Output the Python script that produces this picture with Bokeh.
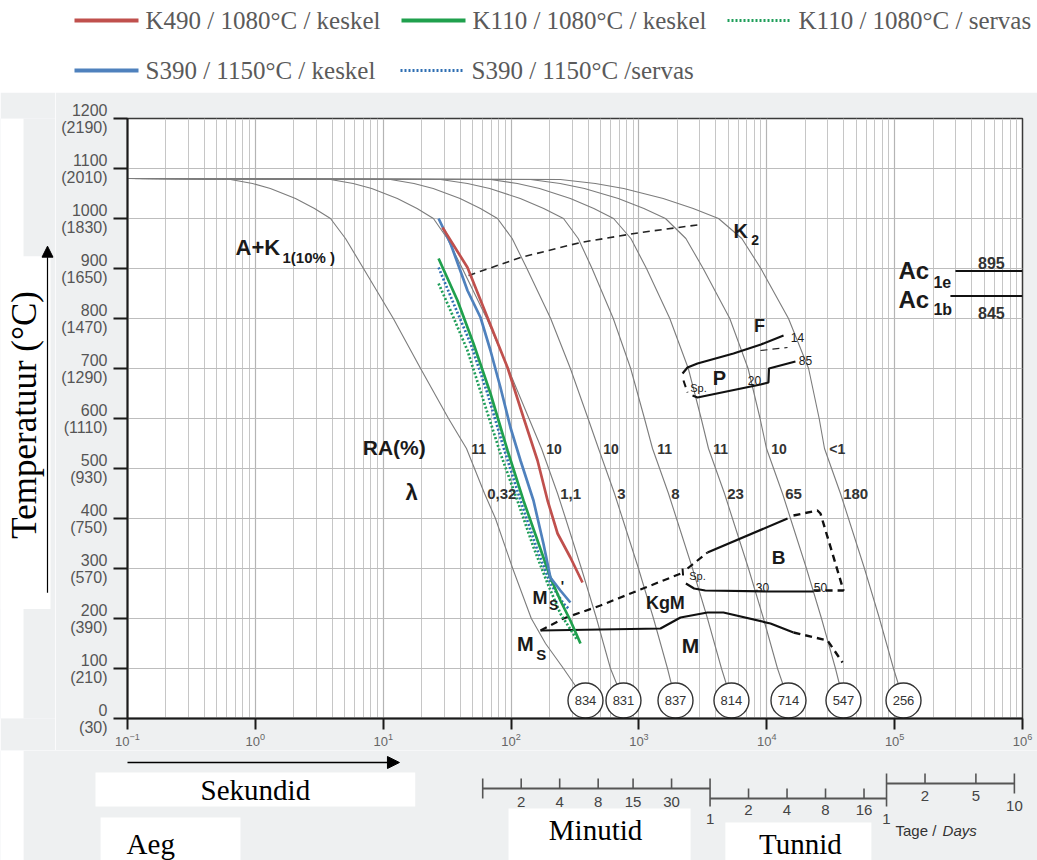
import numpy as np
from bokeh.plotting import figure
from bokeh.layouts import column, row
from bokeh.models import Range1d, FixedTicker, Arrow, NormalHead
from bokeh.core.properties import value
from bokeh.embed import file_html
from bokeh.resources import INLINE

SERIF = value("Liberation Serif")
SANS = value("Liberation Sans")
PAGE_BG = "#eef0f1"
CURVE_GRAY = "#7c7c7c"

# ---------------- measured cooling curves (time s, temperature °C) ----------------
series_labels = ["K490 / 1080°C / keskel", "K110 / 1080°C / keskel", "K110 / 1080°C / servas",
                 "S390 / 1150°C / keskel", "S390 / 1150°C /servas"]
k490_core_t = [29.1, 45.6, 65.4, 93.8, 125, 161, 193, 231, 291, 362]
k490_core_T = [982, 902, 802, 702, 602, 516, 436, 370, 322, 272]
k110_core_t = [27.1, 38.1, 50.8, 69.0, 93.8, 125, 161, 203, 243, 291, 349]
k110_core_T = [920, 836, 750, 650, 536, 436, 356, 282, 236, 196, 150]
k110_surf_t = [27.1, 33.6, 45.6, 60.8, 82.6, 112, 150, 193, 243, 331]
k110_surf_T = [870, 816, 736, 636, 530, 436, 342, 270, 210, 156]
s390_core_t = [27.1, 33.6, 45.6, 57.7, 69.0, 82.6, 98.9, 118.5, 149.7, 179, 203, 243, 291]
s390_core_T = [1000, 950, 856, 802, 736, 662, 582, 516, 436, 350, 282, 256, 232]
s390_surf_t = [27.1, 35.5, 48.2, 65.4, 87.3, 118.5, 161, 203, 257, 281]
s390_surf_T = [902, 830, 750, 650, 542, 436, 336, 270, 230, 220]

# ---------------- CCT background: cooling curves (all start at 1080 °C) ----------------
cool_T = [1080, 1078, 1070, 1060, 1040, 1020, 1000, 960, 900, 800, 700, 600, 540,
          450, 400, 300, 200, 150, 100, 36]
cool_t = [
    [0.1, 0.639, 0.950, 1.31, 2.06, 2.90, 3.87, 5.07, 7.01, 12.0, 19.6, 32.4, 44.8,
     62.0, 75.5, 103, 144, 186, 257, 382],
    [0.1, 3.87, 5.82, 8.13, 12.9, 18.4, 24.7, 31.7, 41.6, 64.5, 94.9, 138, 173,
     231, 267, 355, 466, 528, 599, 757],
    [0.1, 11.4, 17.4, 24.6, 39.9, 57.6, 78.3, 102, 133, 204, 291, 400, 483,
     644, 744, 992, 1300, 1475, 1673, 1932],
    [0.1, 28.1, 45.6, 68.1, 118, 180, 257, 335, 430, 630, 862, 1105, 1277,
     1703, 1967, 2624, 3438, 3899, 4423, 5294],
    [0.1, 69.0, 112, 167, 291, 444, 633, 865, 1146, 1744, 2433, 3069, 3499,
     4669, 5390, 7193, 9424, 10690, 12130, 14780],
    [0.1, 142, 242, 375, 690, 1094, 1613, 2329, 3181, 5135, 7140, 8862, 9947,
     13270, 15320, 20440, 26790, 30380, 34460, 39800],
    [0.1, 243, 456, 760, 1548, 2657, 4192, 6377, 8992, 14780, 21230, 25690, 28270,
     37700, 43550, 58080, 76090, 86340, 97930, 117300],
]
hardness_hv = ["834", "831", "837", "814", "714", "547", "256"]
ra_pct = ["11", "10", "10", "11", "11", "10", "<1"]
lambda_vals = ["0,32", "1,1", "3", "8", "23", "65", "180"]

# ---------------- transformation regions ----------------
carbide_t = [46.5, 118.5, 349, 1028, 3033]
carbide_T = [886, 922, 952, 972, 988]
pearl_up_t = [2193, 2398, 2870, 5490, 9000, 13520]
pearl_up_T = [690, 702, 710, 730, 748, 766]
pearl_lo_t = [2625, 2870, 8930, 10300, 10400, 16750]
pearl_lo_T = [646, 642, 668, 672, 700, 714]
ferrite_t = [8930, 14530]
ferrite_T = [736, 742]
pearl_sp_t = [2231, 2398]
pearl_sp_T = [676, 652]
kgm_t = [170, 257, 500, 1028, 2231]
kgm_T = [176, 200, 226, 258, 292]
bain_up1_t = [2398, 3435]
bain_up1_T = [300, 332]
bain_up_t = [3435, 14530]
bain_up_T = [332, 400]
bain_up2_t = [16180, 24900, 26300, 39800, 23200]
bain_up2_T = [406, 416, 410, 256, 256]
bain_lo_t = [2330, 2700, 3300, 10000, 23200]
bain_lo_T = [270, 260, 256, 254, 254]
bain_sp_t = [2193, 2231]
bain_sp_T = [300, 276]
ms_t = [170, 1475, 2114, 3435, 4580, 10690, 16180]
ms_T = [176, 180, 202, 212, 212, 190, 172]
ms_dash_t = [16180, 29900, 39100]
ms_dash_T = [172, 156, 112]
ac_T = [895, 845]
ac_start_t = [299000, 273000]

# axis ticks
temp_ticks = [0, 100, 200, 300, 400, 500, 600, 700, 800, 900, 1000, 1100, 1200]
temp_f = ["(30)", "(210)", "(390)", "(570)", "(750)", "(930)", "(1110)", "(1290)",
          "(1470)", "(1650)", "(1830)", "(2010)", "(2190)"]
decades = [0.1, 1, 10, 100, 1e3, 1e4, 1e5, 1e6]
minute_marks = [2, 4, 8, 15, 30]
hour_marks = [2, 4, 8, 16]
day_marks = [2, 5]

# ---------------- page geometry ----------------
W = 1037
TOP_H = 92
LEFT_W = 55
MID_H = 658
BOT_H = 110
DEC_PX = 895 / 7.0

# ---------------- legend strip ----------------
top = figure(width=W, height=TOP_H, x_range=Range1d(0, W), y_range=Range1d(TOP_H, 0),
             min_border=0, toolbar_location=None, output_backend="svg",
             x_axis_location=None, y_axis_location=None, outline_line_color=None,
             background_fill_color="white", border_fill_color="white")
top.grid.visible = False
series_colors = ["#c0504d", "#1fa04d", "#1f9e5a", "#4f81bd", "#2f6fb3"]
series_dash = ["solid", "solid", "2 2", "solid", "2 2"]
leg_pos = [(74, 20), (401, 20), (727, 20), (74, 70), (400, 70)]
for (lx, ly), lab, col, dash in zip(leg_pos, series_labels, series_colors, series_dash):
    top.line([lx, lx + 64], [ly, ly], line_color=col, line_width=4 if dash == "solid" else 3,
             line_dash=dash)
    top.text(x=[lx + 71], y=[ly], text=[lab], text_font=SERIF, text_font_size="25px",
             text_color="#5a5a5a", text_baseline="middle", text_align="left")

# ---------------- left strip (axis title) ----------------
left = figure(width=LEFT_W, height=MID_H, x_range=Range1d(0, LEFT_W), y_range=Range1d(-64, 1252),
              min_border=0, toolbar_location=None, output_backend="svg",
              x_axis_location=None, y_axis_location=None, outline_line_color=None,
              background_fill_color=PAGE_BG, border_fill_color=PAGE_BG)
left.grid.visible = False
left.quad(left=[0, 0], right=[23, 50], bottom=[-64, 176], top=[1252, 950],
          fill_color="white", line_color=None)
left.text(x=[24], y=[602], text=["Temperatuur (°C)"], angle=np.pi / 2, text_font=SERIF,
          text_font_size="35px", text_color="black", text_align="center", text_baseline="middle")
left.add_layout(Arrow(end=NormalHead(size=11, fill_color="black", line_color="black"),
                      x_start=47, y_start=212, x_end=47, y_end=972,
                      line_color="black", line_width=1.2))

# ---------------- main CCT chart ----------------
p = figure(width=W - LEFT_W, height=MID_H, x_axis_type="log",
           x_range=Range1d(0.1, 1e6), y_range=Range1d(0, 1200),
           min_border_left=127 - LEFT_W, min_border_right=15, min_border_top=26, min_border_bottom=32,
           toolbar_location=None, output_backend="svg",
           background_fill_color="white", border_fill_color=PAGE_BG,
           outline_line_color="#3a3a3a", outline_line_width=1.5)

minor = [m * d for d in decades[:-1] for m in range(2, 10)]
p.xaxis.ticker = FixedTicker(ticks=decades, minor_ticks=minor)
p.yaxis.ticker = FixedTicker(ticks=temp_ticks)
p.yaxis.major_label_overrides = {t: f"{t}\n{f}" for t, f in zip(temp_ticks, temp_f)}
for ax in (p.xaxis, p.yaxis):
    ax.axis_line_color = "#1a1a1a"
    ax.axis_line_width = 2
    ax.major_tick_line_color = "#1a1a1a"
    ax.major_tick_line_width = 2
    ax.major_tick_in = 0
    ax.minor_tick_line_color = None
    ax.major_label_text_font = "Liberation Sans"
    ax.major_label_text_color = "#555555"
p.yaxis.major_tick_out = 14
p.yaxis.major_label_standoff = 6
p.yaxis.major_label_text_font_size = "16px"
p.yaxis.major_label_text_line_height = 1.0
p.xaxis.major_tick_out = 11
p.xaxis.major_label_standoff = 3
p.xaxis.major_label_text_font_size = "13px"
p.xaxis.major_label_text_color = "#666666"

p.xgrid.grid_line_color = "#b4b4b4"
p.xgrid.minor_grid_line_color = "#c6c6c6"
p.xgrid.grid_line_width = 1.2
p.ygrid.grid_line_color = "#bdbdbd"
p.ygrid.grid_line_width = 1.2

# cooling curves
p.multi_line(xs=cool_t, ys=[cool_T] * len(cool_t), line_color=CURVE_GRAY, line_width=1.1)

# transformation boundaries
BLK = "#111111"
solid_sets = [(pearl_up_t, pearl_up_T), (pearl_lo_t, pearl_lo_T), (bain_up_t, bain_up_T),
              (bain_lo_t, bain_lo_T), (ms_t, ms_T)]
dash_sets = [(carbide_t, carbide_T, 1.6), (ferrite_t, ferrite_T, 1.2), (pearl_sp_t, pearl_sp_T, 2),
             (kgm_t, kgm_T, 2.2), (bain_up1_t, bain_up1_T, 2.2), (bain_up2_t, bain_up2_T, 2.4),
             (bain_sp_t, bain_sp_T, 2), (ms_dash_t, ms_dash_T, 2.4)]
for xs, ys in solid_sets:
    p.line(xs, ys, line_color=BLK, line_width=2.2)
for xs, ys, lw in dash_sets:
    p.line(xs, ys, line_color="#222222" if lw < 2 else BLK, line_width=lw, line_dash="7 5")
for t0, T in zip(ac_start_t, ac_T):
    p.line([t0, 1e6], [T, T], line_color=BLK, line_width=1.8)

# measured curves
meas = [(k490_core_t, k490_core_T), (k110_core_t, k110_core_T), (k110_surf_t, k110_surf_T),
        (s390_core_t, s390_core_T), (s390_surf_t, s390_surf_T)]
for i in [4, 2, 1, 3, 0]:
    xs, ys = meas[i]
    p.line(xs, ys, line_color=series_colors[i], line_width=2.7, line_dash=series_dash[i])

# curve annotations: RA / lambda next to each curve, hardness circles at curve ends
def crossing(ts, Ts, level):
    return float(np.interp(-level, [-v for v in Ts], ts))

ra_x = [crossing(ts, cool_T, 540) * 1.09 for ts in cool_t]
lam_x = [crossing(ts, cool_T, 450) * 1.05 for ts in cool_t]
p.text(x=ra_x, y=[540] * 7, text=ra_pct, text_font=SANS, text_font_style="bold",
       text_font_size="14px", text_color="#333333", text_baseline="middle", text_align="left")
p.text(x=lam_x, y=[450] * 7, text=lambda_vals, text_font=SANS, text_font_style="bold",
       text_font_size="15px", text_color="#333333", text_baseline="middle", text_align="left")
ends = [ts[-1] for ts in cool_t]
p.scatter(x=ends, y=[36] * 7, marker="circle", size=35, fill_color="white",
          line_color="#333333", line_width=1.4)
p.text(x=ends, y=[36] * 7, text=hardness_hv, text_font=SANS, text_font_size="13px",
       text_color="#333333", text_baseline="middle", text_align="center")

def lbl(x, y, s, size, bold=True, align="left", color="#1a1a1a"):
    p.text(x=[x], y=[y], text=[s], text_font=SANS, text_font_style="bold" if bold else "normal",
           text_font_size=f"{size}px", text_color=color, text_baseline="middle", text_align=align)

lbl(0.70, 942, "A+K", 22)
lbl(1.63, 922, "1(10% )", 15)
lbl(5491, 976, "K", 20)
lbl(7551, 958, "2", 14)
lbl(107200, 896, "Ac", 24)
lbl(201200, 874, "1e", 16)
lbl(107200, 838, "Ac", 24)
lbl(201200, 818, "1b", 16)
lbl(571000, 912, "895", 16, align="center", color="#333333")
lbl(571000, 812, "845", 16, align="center", color="#333333")
lbl(8770, 786, "F", 18, align="center")
lbl(17380, 762, "14", 12, bold=False, align="center")
lbl(20050, 716, "85", 12, bold=False, align="center")
lbl(4270, 682, "P", 20, align="center")
lbl(2925, 662, "Sp.", 11, bold=False, align="center")
lbl(8020, 676, "20", 12, bold=False, align="center")
lbl(12360, 322, "B", 19, align="center")
lbl(2870, 286, "Sp.", 11, bold=False, align="center")
lbl(9250, 262, "30", 12, bold=False, align="center")
lbl(26300, 262, "50", 12, bold=False, align="center")
lbl(1610, 232, "KgM", 18, align="center")
lbl(2530, 146, "M", 21, align="center")
lbl(129, 150, "M", 20, align="center")
lbl(172, 128, "S", 15, align="center")
lbl(168, 242, "M", 18, align="center")
lbl(215, 228, "S", 14, align="center")
lbl(252, 266, "'", 14, align="center")
lbl(12.2, 542, "RA(%)", 21, align="center")
lbl(16.7, 452, "λ", 22, align="center")

# ---------------- bottom strip: time scales ----------------
x_lo = 0.1 * 10 ** (-127 / DEC_PX)
x_hi = 1e6 * 10 ** (15 / DEC_PX)
b = figure(width=W, height=BOT_H, x_axis_type="log", x_range=Range1d(x_lo, x_hi),
           y_range=Range1d(BOT_H, 0), min_border=0, toolbar_location=None, output_backend="svg",
           x_axis_location=None, y_axis_location=None, outline_line_color=None,
           background_fill_color=PAGE_BG, border_fill_color=PAGE_BG)
b.grid.visible = False
# white label patches
b.quad(left=[x_lo, 0.0562, 95.5, 4742, 0.0616], right=[0.0154, 17.8, 2535, 65780, 0.765],
       top=[0, 22, 58, 72, 67], bottom=[BOT_H, 56, BOT_H, BOT_H, BOT_H],
       fill_color="white", line_color=None)
b.add_layout(Arrow(end=NormalHead(size=12, fill_color="black", line_color="black"),
                   x_start=0.1, y_start=12, x_end=13.4, y_end=12, line_color="black", line_width=1.3))
for tx, ty, s in [(1.0, 39, "Sekundid"), (458, 79, "Minutid"), (18300, 93, "Tunnid"), (0.152, 93, "Aeg")]:
    b.text(x=[tx], y=[ty], text=[s], text_font=SERIF, text_font_size="29px",
           text_align="center", text_baseline="middle", text_color="black")

SC = "#555555"
MIN, HOUR, DAY = 60, 3600, 86400
TICK_TXT = dict(text_font=SANS, text_font_size="15px", text_color="#444444",
                text_align="center", text_baseline="middle")
# minutes
b.segment(x0=[MIN], y0=[38], x1=[60 * MIN], y1=[38], line_color=SC, line_width=2)
mt = [m * MIN for m in minute_marks]
b.segment(x0=mt, y0=[28] * len(mt), x1=mt, y1=[38] * len(mt), line_color=SC, line_width=1.6)
b.segment(x0=[MIN], y0=[28], x1=[MIN], y1=[48], line_color=SC, line_width=1.6)
b.text(x=mt, y=[51] * len(mt), text=[str(m) for m in minute_marks], **TICK_TXT)
# hours
b.segment(x0=[HOUR], y0=[48], x1=[24 * HOUR], y1=[48], line_color=SC, line_width=2)
ht = [h * HOUR for h in hour_marks]
b.segment(x0=ht, y0=[38] * len(ht), x1=ht, y1=[48] * len(ht), line_color=SC, line_width=1.6)
b.segment(x0=[HOUR, DAY], y0=[28, 23], x1=[HOUR, DAY], y1=[56, 56], line_color=SC, line_width=1.6)
b.text(x=ht, y=[59] * len(ht), text=[str(h) for h in hour_marks], **TICK_TXT)
b.text(x=[HOUR, DAY], y=[68, 68], text=["1", "1"], **TICK_TXT)
# days
b.segment(x0=[DAY], y0=[33], x1=[10 * DAY], y1=[33], line_color=SC, line_width=2)
dt = [d * DAY for d in day_marks]
b.segment(x0=dt, y0=[23] * len(dt), x1=dt, y1=[33] * len(dt), line_color=SC, line_width=1.6)
b.segment(x0=[10 * DAY], y0=[23], x1=[10 * DAY], y1=[43], line_color=SC, line_width=1.6)
b.text(x=dt, y=[45] * len(dt), text=[str(d) for d in day_marks], **TICK_TXT)
b.text(x=[10 * DAY], y=[55], text=["10"], **TICK_TXT)
b.text(x=[101600], y=[80], text=["Tage / "], text_font=SANS, text_font_size="15px",
       text_color="#333333", text_align="left", text_baseline="middle")
b.text(x=[237000], y=[80], text=["Days"], text_font=SANS, text_font_size="15px",
       text_font_style="italic", text_color="#333333", text_align="left", text_baseline="middle")

layout = column(top, row(left, p), b)
open("out.html", "w").write(file_html(layout, INLINE))
